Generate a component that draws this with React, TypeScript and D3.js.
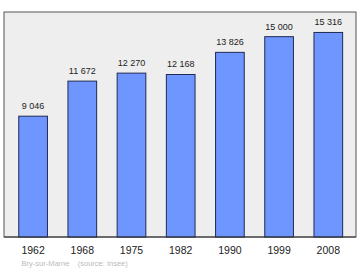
import React from "react";
import * as d3 from "d3";

const years = ["1962", "1968", "1975", "1982", "1990", "1999", "2008"];
const population = [9046, 11672, 12270, 12168, 13826, 15000, 15316];
const valueLabels = ["9 046", "11 672", "12 270", "12 168", "13 826", "15 000", "15 316"];
const caption = "Bry-sur-Marne    (source: Insee)";

export default function App() {
  const W = 360, H = 270;
  const left = 4, right = 356, top = 12, bottom = 237;
  const x = d3.scaleBand<string>().domain(years).range([4, 357.4]).paddingInner(0.417).paddingOuter(0.3);
  const y = d3.scaleLinear().domain([0, (d3.max(population) as number) * 1.1]).range([bottom, top]);
  const font = "'Liberation Sans', Arial, sans-serif";
  return (
    <svg width={W} height={H} style={{ position: "absolute", left: 0, top: 0 }}>
      <rect x={0} y={0} width={W} height={H} fill="#ffffff" />
      <rect x={left} y={top} width={right - left} height={bottom - top} fill="#eeeeee" stroke="#555555" strokeWidth={1} />
      {years.map((yr, i) => (
        <g key={yr}>
          <rect
            x={x(yr)}
            y={y(population[i])}
            width={x.bandwidth()}
            height={bottom - y(population[i])}
            fill="#6f96ff"
            stroke="#1f2a55"
            strokeWidth={1}
          />
          <text x={(x(yr) as number) + x.bandwidth() / 2} y={y(population[i]) - 7} textAnchor="middle" fontSize={9} fontFamily={font} fill="#222">
            {valueLabels[i]}
          </text>
          <text x={(x(yr) as number) + x.bandwidth() / 2} y={254} textAnchor="middle" fontSize={10.5} fontFamily={font} fill="#222">
            {yr}
          </text>
        </g>
      ))}
      <line x1={left} x2={right} y1={bottom} y2={bottom} stroke="#333" strokeWidth={1} />
      <text x={21.5} y={265.5} fontSize={7.5} fontFamily={font} fill="#bbbbbb" style={{ whiteSpace: "pre" }}>
        {caption}
      </text>
    </svg>
  );
}
